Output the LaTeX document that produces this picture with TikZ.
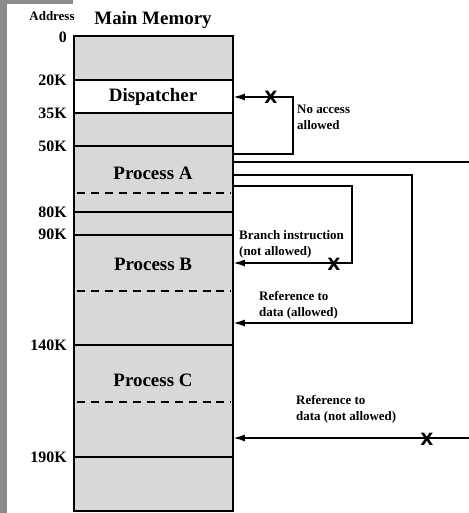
\documentclass[tikz,border=0pt]{standalone}
\usepackage{fontspec}
\setmainfont{Liberation Serif}
\setsansfont{Liberation Sans}
\newfontfamily\crossfont{DejaVu Sans}
\usetikzlibrary{arrows.meta}
\usetikzlibrary{positioning}
\definecolor{memgray}{RGB}{216,216,216}
\definecolor{photogray}{RGB}{140,140,140}
\tikzset{wall/.style = {line width=1.8pt}}
\tikzset{link/.style = {line width=1.8pt, -{Latex[length=12pt, width=7pt]}}}
\tikzset{cut/.style = {line width=1.8pt, dash pattern=on 8pt off 6pt}}
\tikzset{addr/.style = {anchor=east, inner sep=0, font=\fontsize{16}{16}\selectfont\bfseries}}
\tikzset{title/.style = {inner sep=0, font=\fontsize{19}{19}\selectfont\bfseries}}
\tikzset{note/.style = {anchor=west, align=left, inner sep=0, font=\fontsize{13}{16}\selectfont\bfseries}}
\tikzset{cross/.style = {inner sep=0, font=\fontsize{17}{17}\selectfont\crossfont\bfseries}}

\begin{document}
\begin{tikzpicture}[x=1bp, y=-1bp]
    \useasboundingbox (0, 0) rectangle (469, 513);
    \fill [photogray] (0, 0) rectangle (7, 513);
    \fill [photogray] (0, 0) rectangle (73, 4);

    % memory column
    \fill [memgray] (74, 36) rectangle (233, 511);
    \fill [white] (74, 80) rectangle (233, 113);
    \foreach \y in {80, 113, 146, 212, 235, 345, 457}
      \draw [wall] (74, \y) -- (233, \y);
    \foreach \y in {193, 291, 402}
      \draw [cut] (77, \y) -- (231, \y);
    \draw [wall] (74, 36) rectangle (233, 511);

    \node [title] (mem) at (153, 20) {Main Memory};
    \node [inner sep=0, font=\fontsize{13}{13}\selectfont\bfseries] (addr) at (52, 16) {Address};
    \foreach \y/\t in {37/0, 80/20K, 113/35K, 146/50K, 212/80K, 234/90K, 345/140K, 457/190K}
      \node [addr] (a\y) at (67, \y) {\t};

    \node [title] (disp) at (153, 97) {Dispatcher};
    \node [title] (procA) at (153, 173) {Process A};
    \node [title] (procB) at (153, 264) {Process B};
    \node [title] (procC) at (153, 380) {Process C};

    % accesses from process A
    \coordinate (dispOut) at (233, 154);
    \coordinate (dispIn) at (233, 97);
    \coordinate (farOut) at (233, 162);
    \coordinate (farIn) at (233, 438);
    \coordinate (dataOut) at (233, 175);
    \coordinate (dataIn) at (233, 323);
    \coordinate (jumpOut) at (233, 186);
    \coordinate (jumpIn) at (233, 263);

    \draw [link] (dispOut) -- ++(60, 0) |- (dispIn);
    \draw [link] (farOut) -- ++(240, 0) |- (farIn);
    \draw [link] (dataOut) -- ++(179, 0) |- (dataIn);
    \draw [link] (jumpOut) -- ++(119, 0) |- (jumpIn);

    \node [cross] (x1) at (271, 97) {X};
    \node [cross] (x2) at (334, 264) {X};
    \node [cross] (x3) at (427, 439) {X};

    \node [note] (n1) at (297, 117) {No access\\allowed};
    \node [note] (n2) at (239, 244) {Branch instruction\\(not allowed)};
    \node [note] (n3) at (259, 305) {Reference to\\data (allowed)};
    \node [note] (n4) at (296, 409) {Reference to\\data (not allowed)};
  \end{tikzpicture}
\end{document}
